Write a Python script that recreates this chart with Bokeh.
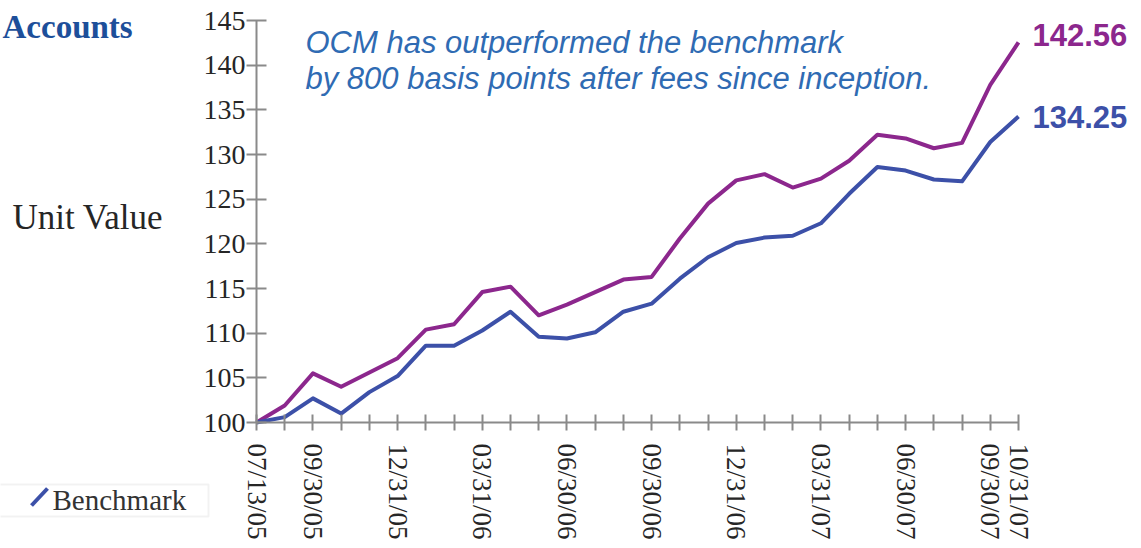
from bokeh.plotting import figure
from bokeh.models import FixedTicker, Label, BoxAnnotation, Arrow, Range1d
from bokeh.embed import file_html
from bokeh.resources import INLINE

# ---- data ----
dates = ["07/13/05", "08/31/05", "09/30/05", "10/31/05", "11/30/05", "12/31/05",
         "01/31/06", "02/28/06", "03/31/06", "04/30/06", "05/31/06", "06/30/06",
         "07/31/06", "08/31/06", "09/30/06", "10/31/06", "11/30/06", "12/31/06",
         "01/31/07", "02/28/07", "03/31/07", "04/30/07", "05/31/07", "06/30/07",
         "07/31/07", "08/31/07", "09/30/07", "10/31/07"]
ocm_values = [100.0, 101.9, 105.5, 104.0, 105.6, 107.2, 110.4, 111.0, 114.6, 115.2,
              112.0, 113.2, 114.6, 116.0, 116.3, 120.6, 124.5, 127.1, 127.8, 126.3,
              127.3, 129.3, 132.2, 131.8, 130.7, 131.3, 137.8, 142.56]
benchmark_values = [100.0, 100.6, 102.7, 101.0, 103.4, 105.2, 108.6, 108.6, 110.3, 112.4,
                    109.6, 109.4, 110.1, 112.4, 113.3, 116.1, 118.5, 120.1, 120.7, 120.9,
                    122.3, 125.6, 128.6, 128.2, 127.2, 127.0, 131.4, 134.25]
labelled_dates = ["07/13/05", "09/30/05", "12/31/05", "03/31/06", "06/30/06", "09/30/06",
                  "12/31/06", "03/31/07", "06/30/07", "09/30/07", "10/31/07"]
y_ticks = [100, 105, 110, 115, 120, 125, 130, 135, 140, 145]
legend_label = "Benchmark"

PURPLE = "#8C278D"
BLUE = "#3C50A8"
TEXT_BLUE = "#2F6BB3"
AXIS_GRAY = "#8a8a8a"
DARK = "#262626"
SERIF = "Liberation Serif"
SANS = "Liberation Sans"

# ---- geometry (page pixels; canvas starts at page 0,0) ----
W, H = 1141, 548
FL, FR, FT, FB = 256, 1018, 20, 422   # where the axes sit on the page
x_idx = list(range(len(dates)))
X0, X1 = 0, len(dates) - 1
Y0, Y1 = 100, 145

def dx(px):
    return X0 + (px - FL) / (FR - FL) * (X1 - X0)

def dy(py):
    return Y0 + (FB - py) / (FB - FT) * (Y1 - Y0)

# the frame covers the whole canvas; the axes are pinned at x=first date and y=100
p = figure(width=W, height=H, output_backend="svg", toolbar_location=None,
           x_range=Range1d(dx(0), dx(W)), y_range=Range1d(dy(H), dy(0)),
           min_border=0, min_border_left=0, min_border_right=0,
           min_border_top=0, min_border_bottom=0)
p.outline_line_color = None
p.grid.visible = False
p.background_fill_color = "white"
p.border_fill_color = "white"

r_ocm = p.line(x_idx, ocm_values, line_color=PURPLE, line_width=4, line_join="round")
r_bm = p.line(x_idx, benchmark_values, line_color=BLUE, line_width=4, line_join="round")

# x axis
xa = p.xaxis[0]
xa.fixed_location = Y0
xa.bounds = (X0, X1)
xa.ticker = FixedTicker(ticks=x_idx)
xa.major_label_overrides = {i: (d if d in labelled_dates else "") for i, d in enumerate(dates)}
xa.major_label_orientation = "vertical"
xa.major_label_text_font = SERIF
xa.major_label_text_font_size = "27px"
xa.major_label_text_color = DARK
xa.major_label_standoff = 13
xa.major_tick_in = 8
xa.major_tick_out = 8
xa.minor_tick_line_color = None
xa.axis_line_color = AXIS_GRAY
xa.axis_line_width = 2
xa.major_tick_line_color = AXIS_GRAY
xa.major_tick_line_width = 2

# y axis
ya = p.yaxis[0]
ya.fixed_location = X0
ya.bounds = (Y0, Y1)
ya.ticker = FixedTicker(ticks=y_ticks)
ya.major_label_text_font = SERIF
ya.major_label_text_font_size = "28px"
ya.major_label_text_color = DARK
ya.major_label_standoff = 1
ya.major_tick_in = 10
ya.major_tick_out = 10
ya.minor_tick_line_color = None
ya.axis_line_color = AXIS_GRAY
ya.axis_line_width = 2
ya.major_tick_line_color = AXIS_GRAY
ya.major_tick_line_width = 2

# texts
p.add_layout(Label(x=dx(305), y=dy(42), text="OCM has outperformed the benchmark",
                   text_baseline="middle", text_font=SANS, text_font_style="italic",
                   text_font_size="31px", text_color=TEXT_BLUE))
p.add_layout(Label(x=dx(305), y=dy(78), text="by 800 basis points after fees since inception.",
                   text_baseline="middle", text_font=SANS, text_font_style="italic",
                   text_font_size="31px", text_color=TEXT_BLUE))
p.add_layout(Label(x=dx(2), y=dy(26), text="Accounts", text_align="left",
                   text_baseline="middle", text_font=SERIF, text_font_style="bold",
                   text_font_size="33px", text_color="#1D4F9A"))
p.add_layout(Label(x=dx(12), y=dy(217), text="Unit Value", text_align="left",
                   text_baseline="middle", text_font=SERIF, text_font_size="35px",
                   text_color=DARK))
p.add_layout(Label(x=X1, y=ocm_values[-1], x_offset=14, y_offset=7,
                   text=f"{ocm_values[-1]:.2f}", text_baseline="middle",
                   text_font=SANS, text_font_style="bold", text_font_size="31px",
                   text_color=PURPLE))
p.add_layout(Label(x=X1, y=benchmark_values[-1], x_offset=14, y_offset=0,
                   text=f"{benchmark_values[-1]:.2f}", text_baseline="middle",
                   text_font=SANS, text_font_style="bold", text_font_size="31px",
                   text_color=BLUE))

# legend box (cut at the left edge in the reference)
p.add_layout(BoxAnnotation(left=dx(-20), right=dx(208), top=dy(484), bottom=dy(516),
                           fill_color="white", fill_alpha=1.0,
                           line_color="#d4d4d4", line_width=2))
p.add_layout(Arrow(x_start=dx(31), y_start=dy(505), x_end=dx(47), y_end=dy(488),
                   end=None, line_color=BLUE, line_width=4))
p.add_layout(Label(x=dx(52), y=dy(499), text=legend_label, text_baseline="middle",
                   text_font=SERIF, text_font_size="29px", text_color="#333333"))

open("out.html", "w").write(file_html(p, INLINE))
